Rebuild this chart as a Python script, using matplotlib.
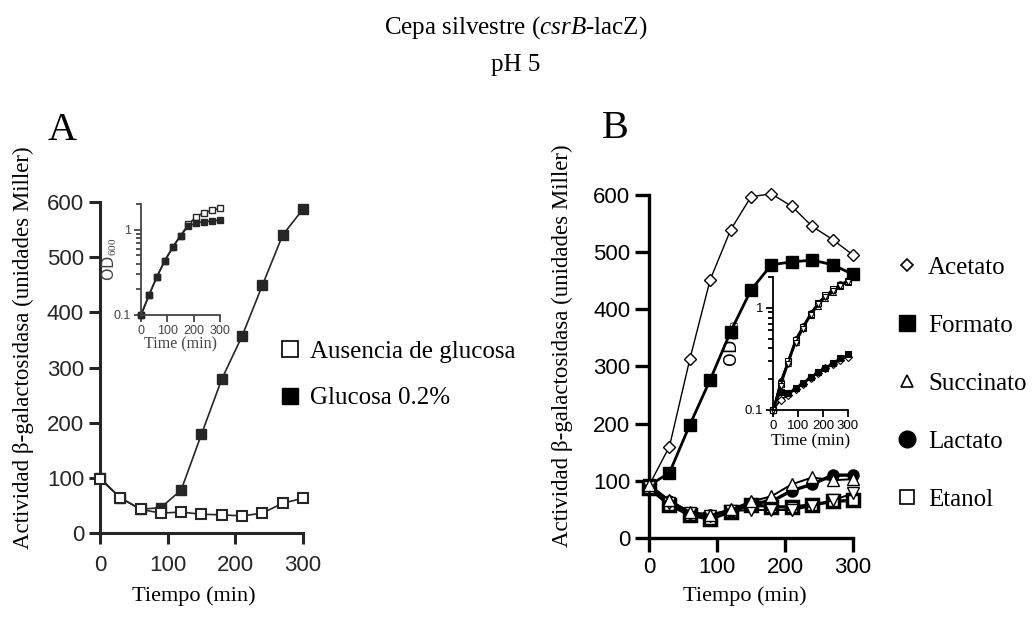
import numpy as np
import matplotlib
matplotlib.use("Agg")
import matplotlib.pyplot as plt
from matplotlib.lines import Line2D
from matplotlib.ticker import LogLocator, NullFormatter, FixedLocator, FixedFormatter

# Datos
tiempo = [0, 30, 60, 90, 120, 150, 180, 210, 240, 270, 300]

# Panel A: actividad beta-galactosidasa
a_sin_glucosa = [98, 64, 43, 36, 38, 34, 33, 31, 36, 54, 63]
a_glucosa = [100, 64, 43, 46, 78, 179, 279, 357, 449, 540, 587]

# Panel A, recuadro: OD600
od_a_sin_glucosa = [0.1, 0.17, 0.28, 0.43, 0.62, 0.85, 1.15, 1.42, 1.58, 1.68, 1.78]
od_a_glucosa = [0.1, 0.17, 0.28, 0.43, 0.62, 0.85, 1.10, 1.20, 1.24, 1.26, 1.30]

# Panel B: actividad segun fuente de carbono
b_acetato = [92, 160, 313, 452, 539, 597, 602, 580, 545, 522, 495]
b_formato = [92, 114, 198, 277, 361, 434, 478, 483, 486, 478, 461]
b_succinato = [93, 66, 46, 40, 50, 64, 73, 94, 106, 101, 103]
b_lactato = [92, 64, 44, 40, 48, 61, 64, 83, 94, 110, 110]
b_etanol = [87, 58, 40, 33, 46, 58, 55, 54, 58, 64, 66]
b_otro = [90, 62, 44, 38, 47, 49, 49, 49, 56, 66, 78]

# Panel B, recuadro: OD600
od_b_acetato = [0.1, 0.125, 0.14, 0.16, 0.18, 0.205, 0.23, 0.255, 0.28, 0.31, 0.33]
od_b_formato = [0.1, 0.15, 0.145, 0.165, 0.185, 0.21, 0.235, 0.26, 0.29, 0.32, 0.35]
od_b_succinato = [0.1, 0.18, 0.29, 0.46, 0.63, 0.84, 1.05, 1.25, 1.42, 1.62, 1.80]
od_b_lactato = [0.1, 0.19, 0.30, 0.49, 0.66, 0.88, 1.10, 1.30, 1.50, 1.70, 1.85]
od_b_etanol = [0.1, 0.18, 0.30, 0.48, 0.65, 0.86, 1.12, 1.32, 1.52, 1.68, 1.82]
od_b_otro = [0.1, 0.17, 0.28, 0.45, 0.62, 0.85, 1.08, 1.28, 1.45, 1.65, 1.80]

SERIF = "Liberation Serif"
SANS = "Liberation Sans"
plt.rcParams["mathtext.fontset"] = "custom"
plt.rcParams["mathtext.rm"] = SERIF
plt.rcParams["mathtext.it"] = SERIF + ":italic"

fig = plt.figure(figsize=(10.34, 6.17), dpi=100)


def estilo_ejes(ax, color, lw=2.2, tick_len=8, size=16, pad=4):
    for s in ["top", "right"]:
        ax.spines[s].set_visible(False)
    for s in ["left", "bottom"]:
        ax.spines[s].set_linewidth(lw)
        ax.spines[s].set_color(color)
    ax.tick_params(direction="out", length=tick_len, width=lw, colors=color,
                   labelsize=size)
    ax.tick_params(axis="x", pad=pad)
    for lab in ax.get_xticklabels() + ax.get_yticklabels():
        lab.set_family(SANS)
    ax.patch.set_alpha(0)


def estilo_recuadro(ax, color, size=9):
    ax.set_yscale("log")
    ax.set_xlim(0, 300)
    ax.set_ylim(0.1, 2)
    ax.set_xticks([0, 100, 200, 300])
    ax.yaxis.set_major_locator(FixedLocator([0.1, 1]))
    ax.yaxis.set_major_formatter(FixedFormatter(["0.1", "1"]))
    ax.yaxis.set_minor_locator(LogLocator(base=10, subs=np.arange(2, 10)))
    ax.yaxis.set_minor_formatter(NullFormatter())
    for s in ["top", "right"]:
        ax.spines[s].set_visible(False)
    for s in ["left", "bottom"]:
        ax.spines[s].set_linewidth(1.3)
        ax.spines[s].set_color(color)
    ax.tick_params(which="major", direction="out", length=5, width=1.3,
                   colors=color, labelsize=size, pad=2)
    ax.tick_params(which="minor", direction="out", length=3.5, width=1.3,
                   colors=color)
    for lab in ax.get_xticklabels() + ax.get_yticklabels():
        lab.set_family(SANS)
    ax.patch.set_alpha(0)


# ---------------- Panel A ----------------
gris = "#262626"
axA = fig.add_axes([0.0967, 0.1361, 0.1963, 0.5365])
axA.plot(tiempo, a_glucosa, color=gris, lw=1.2, marker="s", ms=7,
         mfc=gris, mec=gris, clip_on=False, zorder=3)
axA.plot(tiempo, a_sin_glucosa, color=gris, lw=1.2, marker="s", ms=7,
         mfc="white", mec=gris, mew=1.5, clip_on=False, zorder=4)
axA.set_xlim(0, 300)
axA.set_ylim(0, 600)
axA.set_xticks([0, 100, 200, 300])
axA.set_yticks([0, 100, 200, 300, 400, 500, 600])
estilo_ejes(axA, gris, pad=8)

insA = fig.add_axes([0.1364, 0.4895, 0.0764, 0.18])
insA.plot(tiempo, od_a_sin_glucosa, color=gris, lw=1.2, marker="s", ms=4.5,
          mfc="white", mec=gris, clip_on=False)
insA.plot(tiempo, od_a_glucosa, color=gris, lw=1.2, marker="s", ms=4,
          mfc=gris, mec=gris, clip_on=False)
estilo_recuadro(insA, "#444444")
insA.set_xlabel("Time (min)", family=SERIF, fontsize=11.5, color="#444444",
                labelpad=0)
insA.set_ylabel("OD$_{600}$", fontsize=11.5, color="#444444", labelpad=-4)

# ---------------- Panel B ----------------
axB = fig.add_axes([0.6277, 0.128, 0.1973, 0.556])
axB.plot(tiempo, b_acetato, color="black", lw=1.0, marker="D", ms=6,
         mfc="white", mec="black", mew=1.0, clip_on=False, zorder=3)
axB.plot(tiempo, b_formato, color="black", lw=2.0, marker="s", ms=8,
         mfc="black", mec="black", clip_on=False, zorder=3)
axB.plot(tiempo, b_etanol, color="black", lw=2.4, marker="s", ms=9,
         mfc="white", mec="black", mew=2.5, clip_on=False, zorder=3)
axB.plot(tiempo, b_lactato, color="black", lw=2.4, marker="o", ms=8,
         mfc="black", mec="black", clip_on=False, zorder=4)
axB.plot(tiempo, b_otro, color="black", lw=1.4, marker="v", ms=8.5,
         mfc="white", mec="black", mew=1.0, clip_on=False, zorder=5)
axB.plot(tiempo, b_succinato, color="black", lw=1.4, marker="^", ms=9,
         mfc="white", mec="black", mew=1.0, clip_on=False, zorder=6)
axB.set_xlim(0, 300)
axB.set_ylim(0, 600)
axB.set_xticks([0, 100, 200, 300])
axB.set_yticks([0, 100, 200, 300, 400, 500, 600])
estilo_ejes(axB, "black", lw=2.4, tick_len=10)

insB = fig.add_axes([0.7476, 0.3355, 0.0725, 0.2156])
for serie, m, fc in [(od_b_acetato, "D", "white"), (od_b_formato, "s", "black"),
                     (od_b_succinato, "^", "white"), (od_b_lactato, "o", "black"),
                     (od_b_etanol, "s", "white"), (od_b_otro, "v", "white")]:
    insB.plot(tiempo, serie, color="black", lw=1.3, marker=m, ms=4,
              mfc=fc, mec="black", mew=0.8, clip_on=False)
estilo_recuadro(insB, "black", size=9.5)
insB.set_xlabel("Time (min)", family=SERIF, fontsize=12.5, labelpad=1)
insB.set_ylabel("OD$_{600}$", fontsize=12.5, labelpad=2)

# ---------------- Textos ----------------
fig.text(0.499, 0.955, "Cepa silvestre ($\\mathit{csrB}$-lacZ)", family=SERIF,
         fontsize=18, ha="center", va="center")
fig.text(0.499, 0.895, "pH 5", family=SERIF, fontsize=18, ha="center",
         va="center")
fig.text(0.060, 0.788, "A", family=SERIF, fontsize=29, ha="center", va="center")
fig.text(0.595, 0.791, "B", family=SERIF, fontsize=29, ha="center", va="center")

ylab = "Actividad \u03b2-galactosidasa (unidades Miller)"
fig.text(0.023, 0.437, ylab, family=SERIF, fontsize=16.5, rotation=90,
         ha="center", va="center")
fig.text(0.544, 0.44, ylab, family=SERIF, fontsize=16.5, rotation=90,
         ha="center", va="center")
fig.text(0.187, 0.034, "Tiempo (min)", family=SERIF, fontsize=16,
         ha="center", va="center")
fig.text(0.720, 0.034, "Tiempo (min)", family=SERIF, fontsize=16,
         ha="center", va="center")

# ---------------- Leyendas ----------------
hA = [Line2D([], [], ls="none", marker="s", ms=11, mfc="white", mec="black", mew=1.2),
      Line2D([], [], ls="none", marker="s", ms=11, mfc="black", mec="black")]
fig.legend(hA, ["Ausencia de glucosa", "Glucosa 0.2%"], loc="center left",
           bbox_to_anchor=(280 / 1034, 1 - 375 / 617), frameon=False,
           prop={"family": SERIF, "size": 18}, borderpad=0, borderaxespad=0,
           handlelength=0.8, handletextpad=0.4, labelspacing=0.95)

hB = [Line2D([], [], ls="none", marker="D", ms=6.5, mfc="white", mec="black", mew=1.2),
      Line2D([], [], ls="none", marker="s", ms=11, mfc="black", mec="black"),
      Line2D([], [], ls="none", marker="^", ms=8, mfc="white", mec="black", mew=1.2),
      Line2D([], [], ls="none", marker="o", ms=12, mfc="black", mec="black"),
      Line2D([], [], ls="none", marker="s", ms=9.5, mfc="white", mec="black", mew=1.2)]
fig.legend(hB, ["Acetato", "Formato", "Succinato", "Lactato", "Etanol"],
           loc="center left", bbox_to_anchor=(897 / 1034, 1 - 383.5 / 617),
           frameon=False, prop={"family": SERIF, "size": 18}, borderpad=0,
           borderaxespad=0, handlelength=0.8, handletextpad=0.44,
           labelspacing=1.42)

fig.savefig("out.png", dpi=100)
